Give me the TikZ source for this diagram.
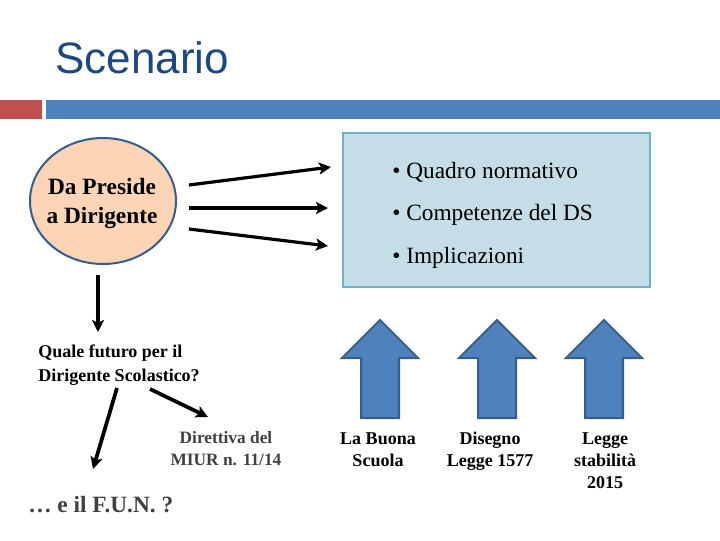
\documentclass[tikz,border=0pt]{standalone}
\usepackage{fontspec}
\setmainfont{Liberation Serif}
\newfontfamily\titlefont{Liberation Sans}
\usetikzlibrary{shapes.geometric,arrows.meta}

\definecolor{titleblue}{HTML}{1F497D}
\definecolor{barred}{HTML}{C0504D}
\definecolor{barblue}{HTML}{4F81BD}
\definecolor{edgeblue}{HTML}{385D8A}
\definecolor{peach}{HTML}{FBD5B5}
\definecolor{boxfill}{HTML}{C5DDE7}
\definecolor{boxedge}{HTML}{6FB0C6}

\begin{document}
\begin{tikzpicture}[x=0.75pt, y=-0.75pt, every node/.style={inner sep=0pt}]
  \tikzstyle{fatarrow} = [line width=2.4pt, -{Stealth[length=9pt,width=9pt,inset=2pt]}]
  \tikzstyle{bigarrow} = [fill=barblue, draw=edgeblue, line width=1.5pt, line join=miter]
  \tikzstyle{law} = [align=center, anchor=north, font=\bfseries\fontsize{13.5}{16.5}\selectfont]
  \tikzstyle{item} = [anchor=west, font=\fontsize{17.5}{20}\selectfont]
  \useasboundingbox (0,0) rectangle (720,540);

  % title and header bar
  \node (title) [anchor=base west, text=titleblue, font=\titlefont\fontsize{33}{40}\selectfont] at (55,73) {Scenario};
  \fill[barred] (0,100) rectangle (42,119);
  \fill[barblue] (46,100) rectangle (720,119);

  % top part
  \node (preside) [ellipse, draw=edgeblue, line width=1.5pt, fill=peach, minimum width=109.5pt, minimum height=94.5pt] at (103,201) {};
  \node (presidetxt) [align=center, font=\bfseries\fontsize{17.5}{21.75}\selectfont] at (102,203) {Da Preside\\a Dirigente};
  \node (quadro) [rectangle, draw=boxedge, line width=0.8pt, fill=boxfill, minimum width=230.25pt, minimum height=115.5pt] at (496.5,210) {};
  \node (q1) [item] at (392,172) {\textbullet\ Quadro normativo};
  \node (q2) [item] at (392,215) {\textbullet\ Competenze del DS};
  \node (q3) [item] at (392,258) {\textbullet\ Implicazioni};

  \coordinate (s1) at (189,185);
  \coordinate (s2) at (189,208);
  \coordinate (s3) at (189,229);
  \coordinate (e1) at (331,167);
  \coordinate (e2) at (328,208);
  \coordinate (e3) at (328,246);
  \draw [fatarrow] (s1) -- (e1);
  \draw [fatarrow] (s2) -- (e2);
  \draw [fatarrow] (s3) -- (e3);

  % bottom left
  \node (futuro) [anchor=north west, align=left, font=\bfseries\fontsize{13.5}{17.5}\selectfont] at (38,345)
        {Quale futuro per il\\Dirigente Scolastico?};
  \node (direttiva) [anchor=north, align=center, text=black!75, font=\bfseries\fontsize{13}{16.5}\selectfont] at (226,431)
        {Direttiva del\\MIUR n. 11/14};
  \node (fun) [anchor=west, text=black!75, font=\bfseries\fontsize{17.5}{20}\selectfont] at (28,505) {\dots\ e il F.U.N. ?};

  \coordinate (d0) at (98,275);
  \coordinate (d1) at (98,332);
  \coordinate (f0) at (117,388);
  \coordinate (f1) at (93,469);
  \coordinate (g0) at (150,389);
  \coordinate (g1) at (208,417);
  \draw [fatarrow] (d0) -- (d1);
  \draw [fatarrow, line width=2.8pt] (f0) -- (f1);
  \draw [fatarrow, line width=2.8pt] (g0) -- (g1);

  % block arrows
  \foreach \cx in {380,497,604}
    \draw [bigarrow] (\cx,320) -- (\cx+38,358) -- (\cx+19,358) -- (\cx+19,418)
          -- (\cx-19,418) -- (\cx-19,358) -- (\cx-38,358) -- cycle;
  \node (buona) [law] at (378,432) {La Buona\\Scuola};
  \node (disegno) [law] at (490,432) {Disegno\\Legge 1577};
  \node (stabilita) [law] at (605,432) {Legge\\stabilità\\2015};
\end{tikzpicture}
\end{document}
